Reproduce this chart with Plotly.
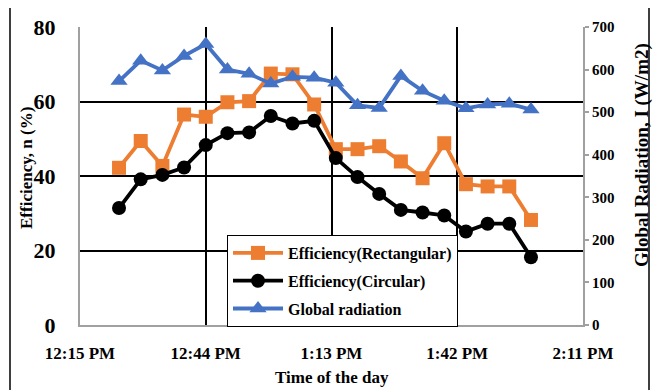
import plotly.graph_objects as go

times = ["12:24", "12:29", "12:34", "12:39", "12:44", "12:49", "12:54", "12:59",
         "13:04", "13:09", "13:14", "13:19", "13:24", "13:29", "13:34", "13:39",
         "13:44", "13:49", "13:54", "13:59"]
eff_rect = [42.2, 49.4, 42.7, 56.5, 55.9, 59.8, 60.1, 67.5, 67.3, 59.2,
            47.2, 47.2, 48.0, 43.9, 39.4, 48.8, 37.8, 37.2, 37.2, 28.2]
eff_circ = [31.4, 39.1, 40.3, 42.3, 48.3, 51.5, 51.7, 56.1, 54.1, 54.8,
            44.8, 39.7, 35.2, 30.9, 30.2, 29.4, 25.1, 27.2, 27.2, 18.2]
radiation = [573, 621, 598, 632, 660, 600, 590, 567, 583, 581,
             569, 516, 510, 585, 550, 527, 509, 518, 520, 506]
tick_times = ["12:15", "12:44", "13:13", "13:42", "14:11"]
tick_labels = ["12:15 PM", "12:44 PM", "1:13 PM", "1:42 PM", "2:11 PM"]

DAY = "2023-01-01 "
x = [DAY + t for t in times]
tickvals = [DAY + t for t in tick_times]

FONT = "Liberation Serif"
ORANGE = "#ED7D31"
BLUE = "#4472C4"

fig = go.Figure()
fig.add_trace(go.Scatter(
    x=x, y=eff_rect, name="<b>Efficiency(Rectangular)</b>", mode="lines+markers",
    line=dict(color=ORANGE, width=3.8), marker=dict(symbol="square", size=14, color=ORANGE),
    legendgroup="a"))
fig.add_trace(go.Scatter(
    x=x, y=eff_circ, name="<b>Efficiency(Circular)</b>", mode="lines+markers",
    line=dict(color="black", width=3.8), marker=dict(symbol="circle", size=14, color="black"),
    legendgroup="b"))
fig.add_trace(go.Scatter(
    x=x, y=radiation, name="<b>Global radiation</b>", mode="lines+markers", yaxis="y2",
    line=dict(color=BLUE, width=3.8), marker=dict(symbol="triangle-up", size=15, color=BLUE),
    legendgroup="c"))

# page offset of the figure (default body margin)
OFF = 8
W, H = 661 - OFF, 390 - OFF
PL, PR, PT, PB = 80, 583, 27, 325   # plot area in page pixels
L, R, T, B = PL - OFF, W - (PR - OFF), PT - OFF, H - (PB - OFF)
pw, ph = W - L - R, H - T - B


def px(xp):
    return (xp - PL) / pw


def py(yp):
    return (PB - yp) / ph


fig.update_layout(
    width=W, height=H,
    margin=dict(l=L, r=R, t=T, b=B, autoexpand=False),
    paper_bgcolor="white", plot_bgcolor="white",
    font=dict(family=FONT, color="black"),
    showlegend=True,
    legend=dict(
        x=px(227), y=py(235), xanchor="left", yanchor="top",
        bgcolor="white", bordercolor="black", borderwidth=1,
        font=dict(family=FONT, size=16, color="black"),
        tracegroupgap=4, itemwidth=50,
    ),
    xaxis=dict(
        type="date",
        range=[DAY + "12:15", DAY + "14:11"],
        tickmode="array", tickvals=tickvals, ticktext=["<b>%s</b>" % t for t in tick_labels],
        tickfont=dict(family=FONT, size=17, color="black"),
        showgrid=True, gridcolor="black", gridwidth=1.5,
        showline=True, linecolor="#A0A0A0", linewidth=2,
        ticks="", ticklabelstandoff=12,
        zeroline=False, fixedrange=True,
    ),
    yaxis=dict(
        range=[0, 80], tickvals=[0, 20, 40, 60, 80],
        ticktext=["<b>%d</b>" % v for v in [0, 20, 40, 60, 80]],
        tickfont=dict(family=FONT, size=22, color="black"),
        showgrid=True, gridcolor="black", gridwidth=1.5,
        showline=True, linecolor="#A0A0A0", linewidth=2,
        ticks="", ticklabelstandoff=18, zeroline=False,
    ),
    yaxis2=dict(
        range=[0, 700], tickvals=list(range(0, 701, 100)),
        ticktext=["<b>%d</b>" % v for v in range(0, 701, 100)],
        tickfont=dict(family=FONT, size=15, color="black"),
        overlaying="y", side="right", showgrid=False,
        showline=True, linecolor="#A0A0A0", linewidth=2,
        ticks="outside", ticklen=4, tickcolor="#A0A0A0", tickwidth=1.5,
        ticklabelstandoff=0, zeroline=False,
    ),
    shapes=[dict(type="rect", xref="paper", yref="paper",
                 x0=px(10), x1=px(649), y0=py(400), y1=py(7),
                 line=dict(color="black", width=1.5), fillcolor="rgba(0,0,0,0)", layer="below")],
    annotations=[
        dict(text="<b>Time of the day</b>", xref="paper", yref="paper",
             x=px(332), y=py(377), xanchor="center", yanchor="middle", showarrow=False,
             font=dict(family=FONT, size=17, color="black")),
        dict(text="<b>Efficiency, n (%)</b>", xref="paper", yref="paper",
             x=px(26), y=py(168), xanchor="center", yanchor="middle", showarrow=False,
             textangle=-90, font=dict(family=FONT, size=17, color="black")),
        dict(text="<b>Global Radiation, I (W/m2)</b>", xref="paper", yref="paper",
             x=px(642), y=py(155), xanchor="center", yanchor="middle", showarrow=False,
             textangle=-90, font=dict(family=FONT, size=19, color="black")),
    ],
)

fig.write_html("out.html")
